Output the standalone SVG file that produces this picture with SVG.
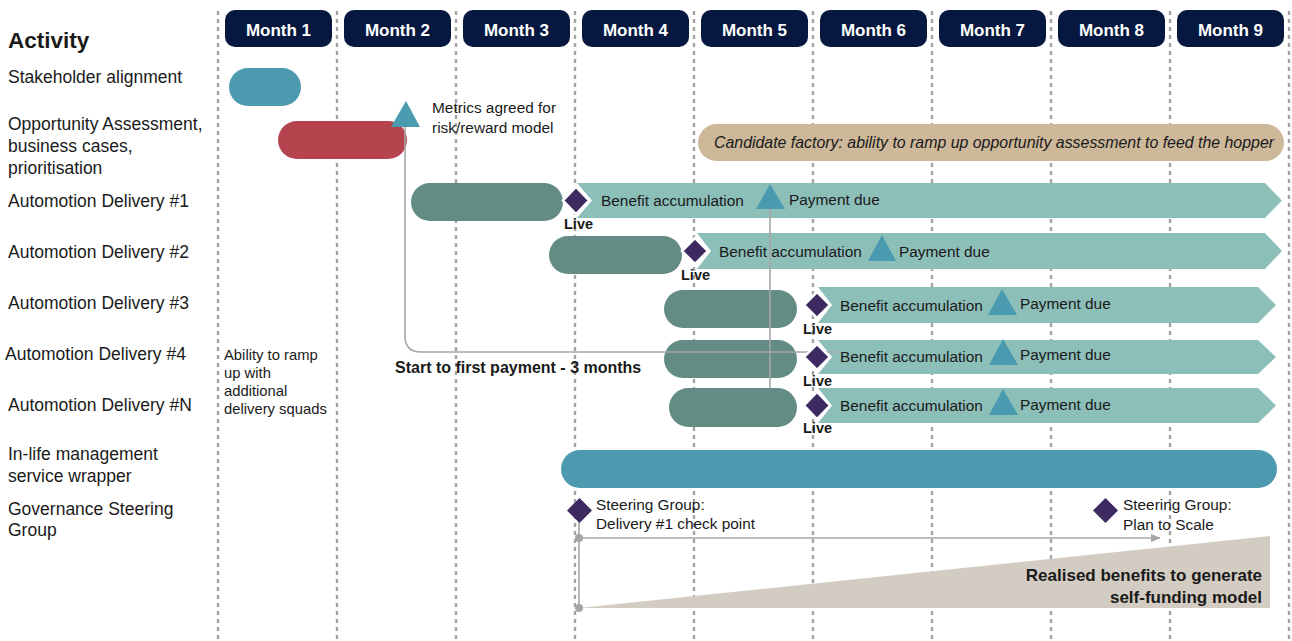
<svg xmlns="http://www.w3.org/2000/svg" width="1292" height="641" viewBox="0 0 1292 641">
<defs>
<style>
text{font-family:"Liberation Sans",Arial,Helvetica,sans-serif;fill:#1a1a1a}
.grid{stroke:#a3a3a3;stroke-width:2.4;stroke-dasharray:4 4;fill:none}
.mh{fill:#06183f}
.mt{fill:#fff;font-weight:bold;font-size:17px;text-anchor:middle}
.lbl{font-size:17.5px}
.sm{font-size:15.4px}
.b{font-weight:bold}
.pill-teal{fill:#4d9ab0}
.pill-red{fill:#b5444f}
.pill-green{fill:#638c85}
.arrow{fill:#8dbfb9}
.dia{fill:#3d2a60;stroke:#fff;stroke-width:2.5}
.dia2{fill:#3d2a60}
.tri{fill:#4a9ab0}
.con{stroke:#a6a6a6;stroke-width:1.6;fill:none}
.live{font-weight:bold;font-size:14.5px}
</style>
<marker id="ah" markerWidth="10" markerHeight="8" refX="9" refY="4" orient="auto" markerUnits="userSpaceOnUse">
<path d="M0,0 L10,4 L0,8 Z" fill="#a6a6a6"/>
</marker>
</defs>
<rect width="1292" height="641" fill="#fff"/>
<g id="grid">
<line class="grid" x1="218" y1="11" x2="218" y2="641"/>
<line class="grid" x1="337" y1="11" x2="337" y2="641"/>
<line class="grid" x1="456" y1="11" x2="456" y2="641"/>
<line class="grid" x1="575" y1="11" x2="575" y2="641"/>
<line class="grid" x1="694" y1="11" x2="694" y2="641"/>
<line class="grid" x1="813" y1="11" x2="813" y2="641"/>
<line class="grid" x1="932" y1="11" x2="932" y2="641"/>
<line class="grid" x1="1051" y1="11" x2="1051" y2="641"/>
<line class="grid" x1="1170" y1="11" x2="1170" y2="641"/>
<line class="grid" x1="1289" y1="11" x2="1289" y2="641"/>
</g>
<g id="months">
<rect class="mh" x="225" y="10" width="107" height="37" rx="10"/><text class="mt" x="278.5" y="35.5">Month 1</text>
<rect class="mh" x="344" y="10" width="107" height="37" rx="10"/><text class="mt" x="397.5" y="35.5">Month 2</text>
<rect class="mh" x="463" y="10" width="107" height="37" rx="10"/><text class="mt" x="516.5" y="35.5">Month 3</text>
<rect class="mh" x="582" y="10" width="107" height="37" rx="10"/><text class="mt" x="635.5" y="35.5">Month 4</text>
<rect class="mh" x="701" y="10" width="107" height="37" rx="10"/><text class="mt" x="754.5" y="35.5">Month 5</text>
<rect class="mh" x="820" y="10" width="107" height="37" rx="10"/><text class="mt" x="873.5" y="35.5">Month 6</text>
<rect class="mh" x="939" y="10" width="107" height="37" rx="10"/><text class="mt" x="992.5" y="35.5">Month 7</text>
<rect class="mh" x="1058" y="10" width="107" height="37" rx="10"/><text class="mt" x="1111.5" y="35.5">Month 8</text>
<rect class="mh" x="1177" y="10" width="107" height="37" rx="10"/><text class="mt" x="1230.5" y="35.5">Month 9</text>
</g>
<g id="labels">
<text x="8" y="48" class="b" font-size="22.5">Activity</text>
<text class="lbl" x="8" y="83">Stakeholder alignment</text>
<text class="lbl" x="8" y="130">Opportunity Assessment,</text>
<text class="lbl" x="8" y="152">business cases,</text>
<text class="lbl" x="8" y="174">prioritisation</text>
<text class="lbl" x="8" y="207">Automotion Delivery #1</text>
<text class="lbl" x="8" y="258">Automotion Delivery #2</text>
<text class="lbl" x="8" y="309">Automotion Delivery #3</text>
<text class="lbl" x="5" y="360">Automotion Delivery #4</text>
<text class="lbl" x="8" y="411">Automotion Delivery #N</text>
<text class="lbl" x="8" y="460">In-life management</text>
<text class="lbl" x="8" y="482">service wrapper</text>
<text class="lbl" x="8" y="515">Governance Steering</text>
<text class="lbl" x="8" y="536">Group</text>
</g>
<g id="ramp-note">
<text font-size="14.8" x="224" y="360">Ability to ramp</text>
<text font-size="14.8" x="224" y="378">up with</text>
<text font-size="14.8" x="224" y="396">additional</text>
<text font-size="14.8" x="224" y="414">delivery squads</text>
</g>
<g id="stakeholder">
<rect class="pill-teal" x="229" y="68" width="72" height="38" rx="19"/>
</g>
<g id="opportunity">
<rect class="pill-red" x="278" y="121" width="129" height="38" rx="19"/>
</g>
<g id="candidate">
<rect fill="#cdb89a" x="698" y="124" width="586" height="37" rx="18.5"/>
<text x="994" y="148" font-size="15.9" text-anchor="middle" font-style="italic">Candidate factory: ability to ramp up opportunity assessment to feed the hopper</text>
</g>
<g id="delivery1">
<rect class="pill-green" x="411" y="183" width="152" height="38" rx="19"/>
<polygon class="arrow" points="577,183 1265,183 1282,200.5 1265,218 577,218 592,200.5"/>
<text class="sm" x="601" y="206">Benefit accumulation</text>
<polygon class="tri" points="770,184 756,209 785,209"/>
<text class="sm" x="789" y="205">Payment due</text>
</g>
<g id="delivery2">
<rect class="pill-green" x="549" y="236" width="133" height="38" rx="19"/>
<polygon class="arrow" points="697,233 1265,233 1282,251 1265,269 697,269 711,251"/>
<text class="sm" x="719" y="257">Benefit accumulation</text>
<polygon class="tri" points="882,235 868,261 896,261"/>
<text class="sm" x="899" y="257">Payment due</text>
</g>
<g id="delivery3">
<rect class="pill-green" x="664" y="290" width="133" height="38" rx="19"/>
<polygon class="arrow" points="818,287 1258,287 1276,305 1258,323 818,323 832,305"/>
<text class="sm" x="840" y="311">Benefit accumulation</text>
<polygon class="tri" points="1002,289 988,315 1017,315"/>
<text class="sm" x="1020" y="309">Payment due</text>
</g>
<g id="delivery4">
<rect class="pill-green" x="664" y="340" width="133" height="38" rx="19"/>
<polygon class="arrow" points="818,340 1258,340 1276,357 1258,374 818,374 832,357"/>
<text class="sm" x="840" y="362">Benefit accumulation</text>
<polygon class="tri" points="1003,339 989,365 1018,365"/>
<text class="sm" x="1020" y="360">Payment due</text>
</g>
<g id="deliveryN">
<rect class="pill-green" x="669" y="388" width="128" height="39" rx="19.5"/>
<polygon class="arrow" points="818,388 1258,388 1276,405.5 1258,423 818,423 832,405.5"/>
<text class="sm" x="840" y="411">Benefit accumulation</text>
<polygon class="tri" points="1003,389 989,415 1018,415"/>
<text class="sm" x="1020" y="410">Payment due</text>
</g>
<g id="inlife">
<rect class="pill-teal" x="561" y="450" width="716" height="38" rx="19"/>
</g>
<g id="benefits-ramp">
<polygon fill="#d3ccc2" points="579,608 1270,536 1270,608"/>
<text class="b" x="1262" y="581" font-size="17" text-anchor="end">Realised benefits to generate</text>
<text class="b" x="1262" y="603" font-size="17" text-anchor="end">self-funding model</text>
</g>
<g id="connectors">
<path class="con" d="M405,127 V336 Q405,352 421,352 H837"/>
<line class="con" x1="770" y1="209" x2="770" y2="388"/>
<line class="con" x1="579" y1="522" x2="579" y2="608"/>
<line class="con" x1="579" y1="538" x2="1160" y2="538" marker-end="url(#ah)"/>
<circle cx="579" cy="538" r="4" fill="#a6a6a6"/>
<circle cx="579" cy="608" r="4" fill="#a6a6a6"/>
</g>
<g id="metrics">
<polygon class="tri" points="406,101 391,127 420,127"/>
<text class="sm" x="432" y="113">Metrics agreed for</text>
<text class="sm" x="432" y="133">risk/reward model</text>
</g>
<g id="start-payment">
<text class="b" x="395" y="373" font-size="16">Start to first payment - 3 months</text>
</g>
<g id="live-markers">
<polygon class="dia" points="576,187 589,200.5 576,214 563,200.5"/>
<text class="live" x="564" y="229">Live</text>
<polygon class="dia" points="695,238 708,251 695,264 682,251"/>
<text class="live" x="681" y="280">Live</text>
<polygon class="dia" points="817,292 830,305 817,318 804,305"/>
<text class="live" x="803" y="334">Live</text>
<polygon class="dia" points="817,344 830,357 817,370 804,357"/>
<text class="live" x="803" y="386">Live</text>
<polygon class="dia" points="817,392 830,405.5 817,419 804,405.5"/>
<text class="live" x="803" y="433">Live</text>
</g>
<g id="steering">
<polygon class="dia2" points="579.5,498 592,510.5 579.5,523 567,510.5"/>
<text class="sm" x="596" y="510">Steering Group:</text>
<text class="sm" x="596" y="529">Delivery #1 check point</text>
<polygon class="dia2" points="1105.5,498 1118,510.5 1105.5,523 1093,510.5"/>
<text class="sm" x="1123" y="510">Steering Group:</text>
<text class="sm" x="1123" y="530">Plan to Scale</text>
</g>
</svg>
